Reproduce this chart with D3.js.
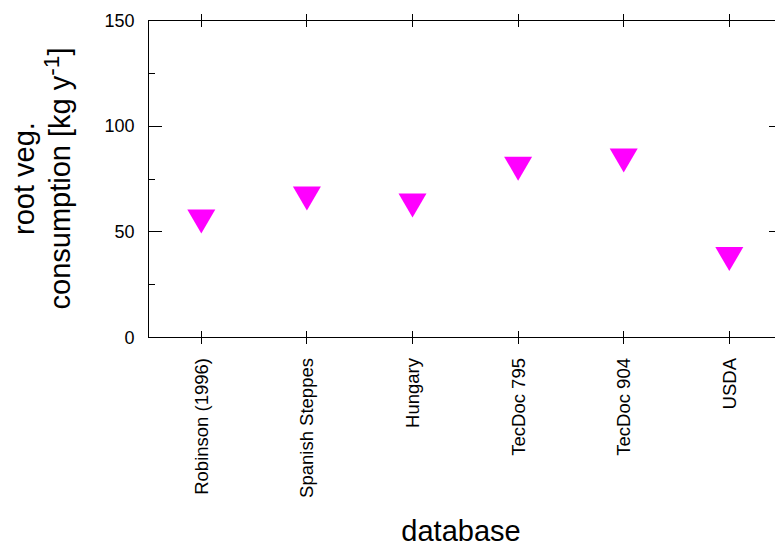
<!DOCTYPE html>
<html lang="en">
    <head>
        <meta charset="utf-8">
        <title>root veg. consumption</title>
        <script type="text/javascript" src="https://d3js.org/d3.v7.min.js"></script>
        <style type="text/css">
            body{ margin: 0; background: #fff; }
            svg{ display: block; font-family: "Liberation Sans", Arial, sans-serif; }
            .frame{ stroke: #000; stroke-width: 1px; fill: none; shape-rendering: crispEdges; }
            .tick{ stroke: #000; stroke-width: 1px; shape-rendering: crispEdges; }
        </style>
    </head>
    <body>
        <svg id="chart" width="775" height="552"></svg>
        <script type="text/javascript">
        //data
        const databases = ["Robinson (1996)", "Spanish Steppes", "Hungary", "TecDoc 795", "TecDoc 904", "USDA"];
        const consumption = [56.8, 67.7, 64.3, 81.8, 85.7, 39.0];
        const yMajor = [0, 50, 100, 150];
        const yMinor = [25, 75, 125];

        const svg = d3.select("#chart");
        const pLeft = 148.5, pRight = 782.1, pTop = 20.5, pBottom = 337.5;

        //scales
        const x = d3.scaleLinear().domain([-0.5, databases.length - 0.5]).range([pLeft, pRight]);
        const y = d3.scaleLinear().domain([0, 150]).range([pBottom, pTop]);

        //frame
        svg.append("rect")
            .attr("class", "frame")
            .attr("x", pLeft).attr("y", pTop)
            .attr("width", pRight - pLeft).attr("height", pBottom - pTop);

        //y ticks, left and mirrored on the right
        const yt = svg.append("g");
        yMajor.forEach(v => {
            yt.append("line").attr("class", "tick")
                .attr("x1", pLeft).attr("x2", pLeft + 13)
                .attr("y1", y(v)).attr("y2", y(v));
            yt.append("line").attr("class", "tick")
                .attr("x1", pRight).attr("x2", pRight - 13)
                .attr("y1", y(v)).attr("y2", y(v));
            yt.append("text")
                .attr("x", pLeft - 14).attr("y", y(v))
                .attr("dy", "0.35em")
                .attr("text-anchor", "end")
                .style("font-size", "18px")
                .text(v);
        });
        yMinor.forEach(v => {
            yt.append("line").attr("class", "tick")
                .attr("x1", pLeft).attr("x2", pLeft + 6.5)
                .attr("y1", y(v)).attr("y2", y(v));
            yt.append("line").attr("class", "tick")
                .attr("x1", pRight).attr("x2", pRight - 6.5)
                .attr("y1", y(v)).attr("y2", y(v));
        });

        //x ticks top and bottom, rotated labels
        const xt = svg.append("g");
        databases.forEach((d, i) => {
            [pTop, pBottom].forEach(yy => {
                xt.append("line").attr("class", "tick")
                    .attr("x1", x(i)).attr("x2", x(i))
                    .attr("y1", yy - 6.5).attr("y2", yy + 6.5);
            });
            xt.append("text")
                .attr("transform", `translate(${x(i)},358) rotate(-90)`)
                .attr("dy", "0.35em")
                .attr("text-anchor", "end")
                .style("font-size", "18.5px")
                .text(d);
        });

        //down triangles, centroid on the value
        const tw = 14, th = 24;
        const tri = `M${-tw},${-th / 3}L${tw},${-th / 3}L0,${2 * th / 3}Z`;
        svg.append("g").selectAll("path")
            .data(consumption)
            .join("path")
            .attr("d", tri)
            .attr("transform", (d, i) => `translate(${x(i)},${y(d)})`)
            .style("fill", "#ff00ff");

        //axis titles
        svg.append("text")
            .attr("x", 461).attr("y", 541)
            .attr("text-anchor", "middle")
            .style("font-size", "29px")
            .text("database");

        svg.append("text")
            .attr("transform", "translate(34,178.5) rotate(-90)")
            .attr("text-anchor", "middle")
            .style("font-size", "29px")
            .text("root veg.");

        const yl = svg.append("text")
            .attr("transform", "translate(69.5,178.5) rotate(-90)")
            .attr("text-anchor", "middle")
            .style("font-size", "29px");
        yl.append("tspan").text("consumption [kg y");
        yl.append("tspan").attr("dy", "-0.45em").style("font-size", "0.78em").text("-1");
        yl.append("tspan").attr("dy", "0.35em").text("]");
        </script>
    </body>
</html>
